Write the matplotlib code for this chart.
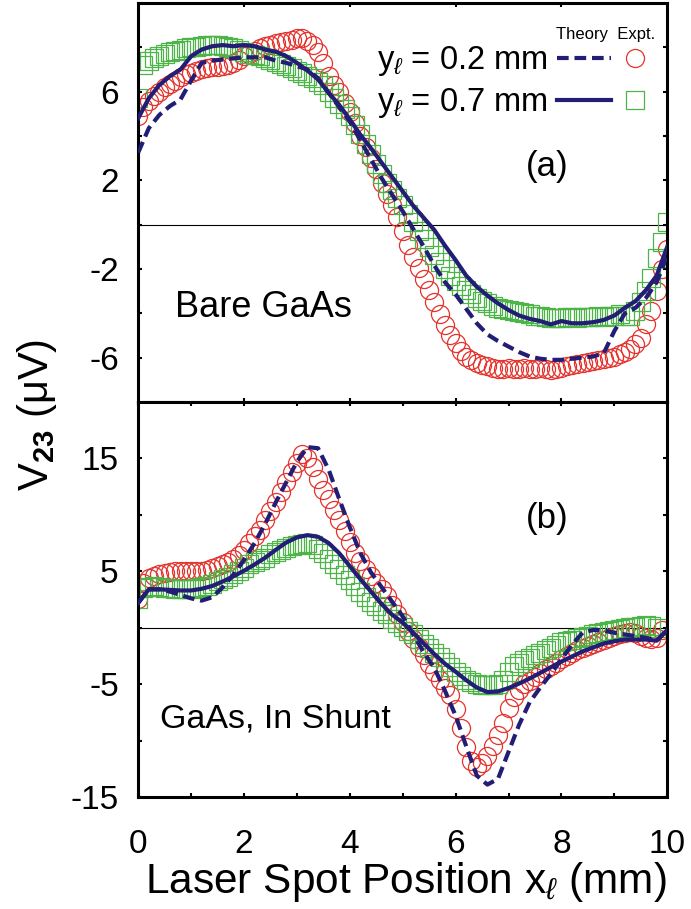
import numpy as np
import matplotlib
matplotlib.use('Agg')
import matplotlib.pyplot as plt
from matplotlib.legend_handler import HandlerTuple

plt.rcParams['font.family'] = ['Liberation Sans', 'DejaVu Sans']
plt.rcParams['mathtext.fontset'] = 'custom'
plt.rcParams['mathtext.rm'] = 'Liberation Sans'
plt.rcParams['mathtext.it'] = 'Liberation Sans:italic'
plt.rcParams['mathtext.bf'] = 'Liberation Sans:bold'
plt.rcParams['axes.unicode_minus'] = False

navy = '#221d75'
red = '#e5322d'
green = '#4db448'

expt_step = 0.1    # mm between measured points
theory_step = 0.2  # mm between theory points

########## (a) bare GaAs ##########
a_expt_02 = [4.9, 5.3, 5.6, 5.8, 6.0, 6.2, 6.35, 6.5, 6.65, 6.8,
             6.85, 6.95, 7.0, 7.05, 7.1, 7.1, 7.15, 7.2, 7.3, 7.45,
             7.6, 7.7, 7.85, 7.95, 8.05, 8.1, 8.2, 8.25, 8.3, 8.35,
             8.4, 8.4, 8.3, 8.1, 7.8, 7.3, 6.7, 6.3, 6.0, 5.5,
             5.1, 4.6, 4.0, 3.5, 3.0, 2.5, 1.9, 1.4, 0.9, 0.35,
             -0.3, -0.9, -1.45, -1.95, -2.45, -2.95, -3.5, -4.05, -4.55, -5.0,
             -5.35, -5.7, -5.95, -6.1, -6.25, -6.35, -6.4, -6.45, -6.5, -6.5,
             -6.45, -6.5, -6.5, -6.45, -6.5, -6.5, -6.45, -6.5, -6.55, -6.5,
             -6.45, -6.4, -6.35, -6.3, -6.25, -6.2, -6.15, -6.1, -6.05, -6.0,
             -5.95, -5.85, -5.75, -5.6, -5.4, -5.1, -4.5, -3.9, -3.0, -2.0,
             -1.1]
a_expt_07 = [5.7, 7.2, 7.4, 7.5, 7.6, 7.7, 7.8, 7.85, 7.9, 7.95,
             8.0, 8.0, 8.05, 8.1, 8.1, 8.1, 8.05, 8.0, 7.95, 7.9,
             7.8, 7.7, 7.65, 7.6, 7.5, 7.45, 7.35, 7.25, 7.15, 7.05,
             6.95, 6.85, 6.7, 6.6, 6.45, 6.3, 6.0, 5.7, 5.45, 5.2,
             4.9, 4.5, 4.1, 3.65, 3.2, 2.75, 2.3, 1.9, 1.55, 1.2,
             0.9, 0.5, 0.1, -0.3, -0.65, -1.0, -1.35, -1.7, -2.0, -2.3,
             -2.55, -2.75, -2.95, -3.15, -3.3, -3.45, -3.55, -3.65, -3.75, -3.8,
             -3.85, -3.9, -3.95, -4.0, -4.05, -4.1, -4.1, -4.15, -4.2, -4.2,
             -4.2, -4.15, -4.15, -4.2, -4.15, -4.15, -4.15, -4.1, -4.15, -4.1,
             -4.1, -4.05, -4.1, -4.1, -3.9, -3.5, -3.0, -2.4, -1.5, -0.8,
             0.1]
a_theory_02 = [3.25, 4.35, 4.95, 5.35, 5.65, 6.5, 7.3, 7.4, 7.45, 7.5,
               7.55, 7.55, 7.55, 7.4, 7.3, 7.15, 7.0, 6.6, 5.95, 5.3,
               4.65, 3.8, 2.95, 2.1, 1.35, 0.6, -0.2, -1.0, -1.85, -2.6,
               -3.15, -3.8, -4.45, -4.95, -5.25, -5.5, -5.75, -5.95, -6.05, -6.1,
               -6.1, -6.05, -6.0, -5.95, -5.8, -4.8, -4.0, -3.75, -3.3, -2.6,
               -1.4]
a_theory_07 = [4.8, 5.7, 6.3, 6.7, 7.0, 7.6, 7.9, 8.05, 8.1, 8.05,
               8.1, 8.05, 7.9, 7.8, 7.6, 7.3, 6.95, 6.55, 5.95, 5.4,
               4.75, 4.05, 3.45, 2.8, 2.15, 1.5, 0.85, 0.3, -0.25, -0.95,
               -1.6, -2.3, -2.8, -3.2, -3.55, -3.85, -4.1, -4.25, -4.35, -4.5,
               -4.35, -4.45, -4.45, -4.4, -4.3, -4.1, -3.75, -3.45, -2.95, -2.3,
               -1.0]

########## (b) GaAs with In shunt ##########
b_expt_02 = [2.5, 4.0, 4.4, 4.6, 4.8, 4.85, 4.9, 5.0, 5.0, 5.0,
             5.0, 5.0, 5.05, 5.15, 5.3, 5.45, 5.6, 5.8, 6.1, 6.4,
             6.9, 7.5, 8.1, 8.7, 9.5, 10.3, 11.1, 12.0, 12.9, 13.8,
             14.6, 15.4, 15.0, 14.2, 13.2, 12.2, 11.4, 10.4, 9.5, 8.6,
             7.6, 6.6, 5.9, 5.2, 4.6, 4.0, 3.4, 2.8, 2.0, 1.2,
             0.5, -0.3, -1.0, -1.7, -2.4, -3.2, -3.9, -4.6, -5.3, -6.0,
             -7.2, -8.9, -10.6, -11.8, -12.3, -12.0, -11.4, -10.5, -9.5, -8.4,
             -7.1, -6.1, -5.5, -5.0, -4.7, -4.4, -4.0, -3.7, -3.4, -3.1,
             -2.8, -2.5, -2.2, -2.0, -1.8, -1.6, -1.4, -1.25, -1.05, -0.9,
             -0.75, -0.6, -0.5, -0.4, -0.5, -0.7, -0.9, -1.0, -0.9, -0.2]
b_expt_07 = [2.5, 3.5, 3.6, 3.7, 3.6, 3.5, 3.5, 3.4, 3.4, 3.4,
             3.4, 3.5, 3.6, 3.7, 3.9, 4.1, 4.3, 4.5, 4.8, 5.0,
             5.3, 5.6, 5.8, 6.0, 6.2, 6.5, 6.7, 6.9, 7.1, 7.2,
             7.35, 7.4, 7.5, 7.3, 7.0, 6.6, 6.1, 5.6, 5.2, 4.7,
             4.2, 3.7, 3.2, 2.7, 2.3, 1.9, 1.5, 1.2, 0.8, 0.4,
             0.1, -0.3, -0.6, -1.0, -1.4, -1.8, -2.2, -2.6, -3.0, -3.5,
             -3.9, -4.3, -4.6, -4.8, -5.0, -5.1, -5.1, -5.1, -5.0, -4.6,
             -3.9, -3.4, -3.1, -2.9, -2.7, -2.4, -2.2, -2.0, -1.8, -1.5,
             -1.3, -1.2, -1.1, -0.95, -0.8, -0.7, -0.6, -0.5, -0.4, -0.3,
             -0.2, -0.1, 0.0, 0.05, 0.1, 0.15, 0.2, 0.15, 0.0]
b_theory_02 = [2.2, 3.4, 3.4, 3.2, 2.9, 2.6, 2.4, 2.7, 3.6, 4.7,
               6.0, 7.5, 9.2, 11.1, 12.9, 14.7, 16.0, 15.9, 14.0, 11.4,
               8.9, 6.6, 4.9, 3.6, 2.3, 1.0, -0.6, -2.2, -3.6, -5.6,
               -7.8, -10.5, -13.1, -13.9, -13.4, -11.0, -8.6, -6.6, -5.3, -4.1,
               -2.8, -1.5, -0.45, -0.2, -0.25, -0.45, -0.6, -0.75, -0.9, -1.15,
               -0.2]
b_theory_07 = [2.2, 3.4, 3.4, 3.35, 3.3, 3.3, 3.45, 3.7, 4.1, 4.55,
               5.05, 5.6, 6.2, 6.9, 7.55, 8.0, 8.2, 8.05, 7.5, 6.6,
               5.45, 4.3, 3.2, 2.1, 1.15, 0.45, -0.45, -1.4, -2.35, -3.2,
               -3.9, -4.65, -5.3, -5.7, -5.65, -5.35, -4.95, -4.5, -4.0, -3.5,
               -3.0, -2.55, -2.1, -1.75, -1.4, -1.2, -1.05, -1.05, -1.05, -1.15,
               -0.2]

labels = [r'y$_{\ell}$ = 0.2 mm', r'y$_{\ell}$ = 0.7 mm']


def xs(vals, step):
    return np.arange(len(vals)) * step


def draw_panel(ax, e02, e07, t02, t07):
    ax.axhline(0, color='k', lw=0.8, zorder=1)
    c, = ax.plot(xs(e02, expt_step), e02, 'o', ms=13, mfc='none', mec=red, mew=0.9, zorder=2)
    s, = ax.plot(xs(e07, expt_step), e07, 's', ms=12.5, mfc='none', mec=green, mew=0.9, zorder=2)
    d, = ax.plot(xs(t02, theory_step), t02, color=navy, lw=3, ls=(0, (2.8, 1.4)), zorder=3)
    l, = ax.plot(xs(t07, theory_step), t07, color=navy, lw=3, zorder=3)
    ax.set_xlim(0, 10)
    for sp in ax.spines.values():
        sp.set_linewidth(2.2)
    ax.tick_params(which='both', direction='in', top=True, right=True,
                   length=3, width=1.5, labelsize=24)
    ax.tick_params(axis='y', pad=14)
    ax.tick_params(axis='x', pad=23)
    return c, s, d, l


fig = plt.figure(figsize=(6.91, 9.09), dpi=100)
ax1 = fig.add_axes([0.2, 0.5578, 0.7656, 0.4389])
ax2 = fig.add_axes([0.2, 0.1232, 0.7656, 0.4346])

c, s, d, l = draw_panel(ax1, a_expt_02, a_expt_07, a_theory_02, a_theory_07)
draw_panel(ax2, b_expt_02, b_expt_07, b_theory_02, b_theory_07)

ax1.set_ylim(-8, 10)
ax1.set_yticks([-6, -2, 2, 6])
ax1.set_yticks([-4, 0, 4, 8], minor=True)
ax1.set_xticks([2, 4, 6, 8])
ax1.tick_params(axis='x', labelbottom=False)

ax2.set_ylim(-15, 20)
ax2.set_yticks([-15, -5, 5, 15])
ax2.set_yticks([-10, 0, 10], minor=True)
ax2.set_xticks([0, 2, 4, 6, 8, 10])
ax2.set_xticks([1, 3, 5, 7, 9], minor=True)

ax1.legend([(d, c), (l, s)], labels, handler_map={tuple: HandlerTuple(ndivide=None, pad=-0.06)},
           loc='upper right', bbox_to_anchor=(0.99, 0.897), frameon=False, fontsize=23.5,
           markerfirst=False, handlelength=3.2, handletextpad=0.3, labelspacing=0.25,
           borderpad=0, borderaxespad=0)
ax1.text(0.79, 0.92, 'Theory  Expt.', transform=ax1.transAxes, fontsize=12, va='center')

ax1.text(0.773, 0.591, '(a)', transform=ax1.transAxes, fontsize=25, ha='center', va='center')
ax2.text(0.773, 0.706, '(b)', transform=ax2.transAxes, fontsize=25, ha='center', va='center')
ax1.text(0.069, 0.213, 'Bare GaAs', transform=ax1.transAxes, fontsize=26, va='baseline')
ax2.text(0.042, 0.175, 'GaAs, In Shunt', transform=ax2.transAxes, fontsize=24.5, va='baseline')

fig.text(0.054, 0.543, r'V$_{\mathbf{23}}$ (μV)', rotation=90, fontsize=30, ha='center', va='center')
fig.text(0.587, 0.0176, r'Laser Spot Position x$_{\ell}$ (mm)', fontsize=30.5, ha='center', va='baseline')

fig.savefig('out.png', dpi=100)
